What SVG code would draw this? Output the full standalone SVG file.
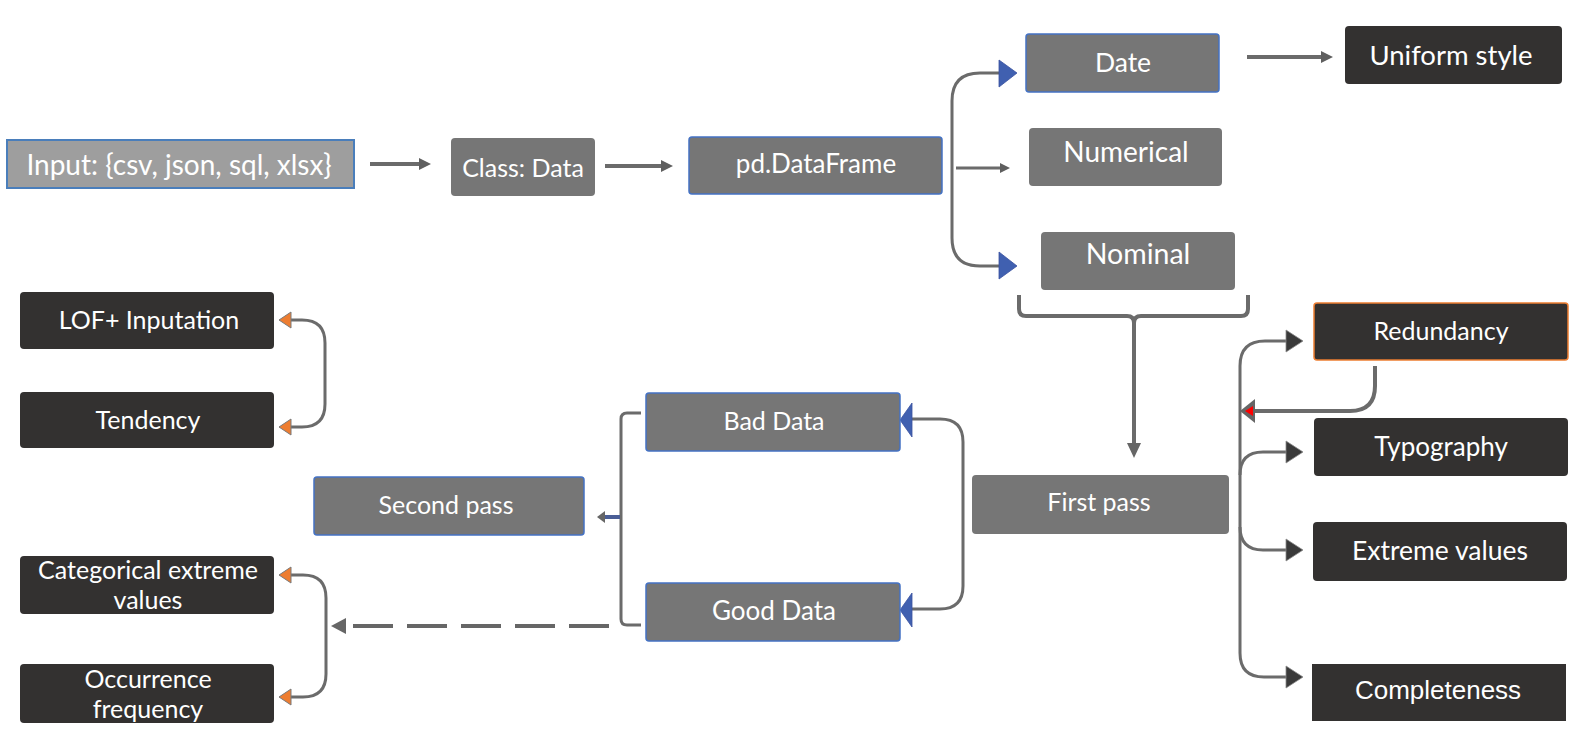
<svg xmlns="http://www.w3.org/2000/svg" width="1579" height="747" viewBox="0 0 1579 747">
<style>
  .mid{fill:#767676}
  .dark{fill:#333130}
  .lt{fill:#9e9e9e;stroke:#4a7ebb;stroke-width:2}
  .bb{stroke:#4472c4;stroke-width:1.5}
  .ob{stroke:#ed7d31;stroke-width:1.5}
  text{font-family:Lato,"Open Sans","Liberation Sans",sans-serif;font-size:25px;fill:#ffffff;text-anchor:middle;dominant-baseline:central}
  .f26{font-size:26px}
  .f265{font-size:26.5px}
  .f275{font-size:27.5px}
  .f28{font-size:28px}
  .f285{font-size:28.5px}
  .arial{font-family:"Liberation Sans",Arial,sans-serif;font-size:26px}
  .c{fill:none;stroke:#6b6b6b;stroke-width:3}
  .thick{stroke-width:4}
  .dash{fill:none;stroke:#666;stroke-width:4;stroke-dasharray:40 14}
  .ahb{fill:#4060b0;stroke:#3a52a0;stroke-width:0.8}
  .aho{fill:#ed7d31;stroke:#7a7a7a;stroke-width:1}
  .ahd{fill:#3a3a3a;stroke:#8a8a8a;stroke-width:0.8}
  .ahg{fill:#666}
</style>
<defs>
  <marker id="ag" markerUnits="userSpaceOnUse" viewBox="0 0 12 12" refX="8" refY="6" markerWidth="12" markerHeight="12" orient="auto">
    <path d="M0,0 L12,6 L0,12 z" fill="#5f5f5f"/>
  </marker>
  <marker id="as" markerUnits="userSpaceOnUse" viewBox="0 0 10 10" refX="6" refY="5" markerWidth="10" markerHeight="10" orient="auto">
    <path d="M0,0 L10,5 L0,10 z" fill="#5f5f5f"/>
  </marker>
</defs>

<g id="connectors">
  <path class="c thick" d="M370 164 H427" marker-end="url(#ag)"/>
  <path class="c thick" d="M605 166 H669" marker-end="url(#ag)"/>
  <path class="c" d="M999 73 H980 Q952 73 952 101 V238 Q952 266 980 266 H999"/>
  <polygon class="ahb" points="1017,73 999,60 999,87"/>
  <polygon class="ahb" points="1017,266 999,252 999,279"/>
  <path class="c" d="M956 168 H1006" marker-end="url(#as)"/>
  <path class="c thick" d="M1247 57 H1329" marker-end="url(#ag)"/>
  <path class="c thick" d="M1019 295 V309 Q1019 316 1026 316 H1127 Q1134 316 1134 323 V444 M1248 295 V309 Q1248 316 1241 316 H1141 Q1134 316 1134 323"/>
  <polygon class="ahg" points="1134,458 1127,443 1141,443"/>
  <path class="c" d="M912 419 H940 Q963 419 963 442 V586 Q963 609 940 609 H912"/>
  <polygon class="ahb" points="900,420 912,403 912,437"/>
  <polygon class="ahb" points="900,610 912,593 912,627"/>
  <path class="c" d="M641 413 H627 Q621 413 621 419 V619 Q621 625 627 625 H641"/>
  <path d="M620 517 H604" fill="none" stroke="#4a5e96" stroke-width="4"/>
  <polygon class="ahg" points="597,517 605,511 605,523"/>
  <path class="dash" d="M609 626 H345"/>
  <polygon class="ahg" points="331,626 346,618 346,634"/>
  <path class="c" d="M291 320 H302 Q325 320 325 343 V404 Q325 427 302 427 H291"/>
  <polygon class="aho" points="279,320 291,312 291,328"/>
  <polygon class="aho" points="279,427 291,419 291,435"/>
  <path class="c" d="M291 575 H303 Q326 575 326 598 V674 Q326 697 303 697 H291"/>
  <polygon class="aho" points="279,575 291,567 291,583"/>
  <polygon class="aho" points="279,697 291,689 291,705"/>
  <path class="c" d="M1240 366 V653"/>
  <path class="c" d="M1240 366 Q1240 341 1265 341 H1287"/>
  <path class="c" d="M1240 475 Q1240 452 1263 452 H1287"/>
  <path class="c" d="M1240 527 Q1240 550 1263 550 H1287"/>
  <path class="c" d="M1240 653 Q1240 677 1264 677 H1287"/>
  <polygon class="ahd" points="1303,341 1286,330 1286,352"/>
  <polygon class="ahd" points="1303,452 1286,441 1286,463"/>
  <polygon class="ahd" points="1303,550 1286,539 1286,561"/>
  <polygon class="ahd" points="1303,677 1286,666 1286,688"/>
  <path class="c thick" d="M1375 366 V386 Q1375 411 1350 411 H1254"/>
  <polygon fill="#666" points="1240,411 1255,399 1255,423"/>
  <polygon fill="#ff0000" points="1245,411 1253,406 1253,416"/>
</g>

<g id="n-input"><rect class="lt" x="7" y="140" width="347" height="48"/><text class="f28" x="179" y="164">Input: {csv, json, sql, xlsx}</text></g>
<g id="n-class"><rect class="mid" x="451" y="138" width="144" height="58" rx="4"/><text x="523" y="167">Class: Data</text></g>
<g id="n-pd"><rect class="mid bb" x="689" y="137" width="253" height="57" rx="3"/><text class="f26" x="816" y="163">pd.DataFrame</text></g>
<g id="n-date"><rect class="mid bb" x="1026" y="34" width="193" height="58" rx="3"/><text class="f265" x="1123" y="62">Date</text></g>
<g id="n-numerical"><rect class="mid" x="1029" y="128" width="193" height="58" rx="4"/><text class="f28" x="1126" y="151">Numerical</text></g>
<g id="n-nominal"><rect class="mid" x="1041" y="232" width="194" height="58" rx="4"/><text class="f285" x="1138" y="253">Nominal</text></g>
<g id="n-uniform"><rect class="dark" x="1345" y="26" width="217" height="58" rx="4"/><text class="f275" x="1451" y="54">Uniform style</text></g>
<g id="n-lof"><rect class="dark" x="20" y="292" width="254" height="57" rx="4"/><text x="149" y="319">LOF+ Inputation</text></g>
<g id="n-tendency"><rect class="dark" x="20" y="392" width="254" height="56" rx="4"/><text x="148" y="419">Tendency</text></g>
<g id="n-cat"><rect class="dark" x="20" y="556" width="254" height="58" rx="4"/><text x="148" y="569">Categorical extreme</text><text x="148" y="599">values</text></g>
<g id="n-occ"><rect class="dark" x="20" y="664" width="254" height="59" rx="4"/><text x="148" y="678">Occurrence</text><text x="148" y="708">frequency</text></g>
<g id="n-second"><rect class="mid bb" x="314" y="477" width="270" height="58" rx="3"/><text x="446" y="504">Second pass</text></g>
<g id="n-bad"><rect class="mid bb" x="646" y="393" width="254" height="58" rx="3"/><text x="774" y="420">Bad Data</text></g>
<g id="n-good"><rect class="mid bb" x="646" y="583" width="254" height="58" rx="3"/><text class="f26" x="774" y="610">Good Data</text></g>
<g id="n-first"><rect class="mid" x="972" y="475" width="257" height="59" rx="4"/><text x="1099" y="501">First pass</text></g>
<g id="n-redundancy"><rect class="dark ob" x="1314" y="303" width="254" height="57" rx="3"/><text x="1441" y="330">Redundancy</text></g>
<g id="n-typography"><rect class="dark" x="1314" y="418" width="254" height="58" rx="4"/><text class="f26" x="1441" y="446">Typography</text></g>
<g id="n-extreme"><rect class="dark" x="1313" y="522" width="254" height="59" rx="4"/><text class="f265" x="1440" y="550">Extreme values</text></g>
<g id="n-completeness"><rect class="dark" x="1312" y="664" width="254" height="57"/><text class="arial" x="1438" y="690">Completeness</text></g>
</svg>
